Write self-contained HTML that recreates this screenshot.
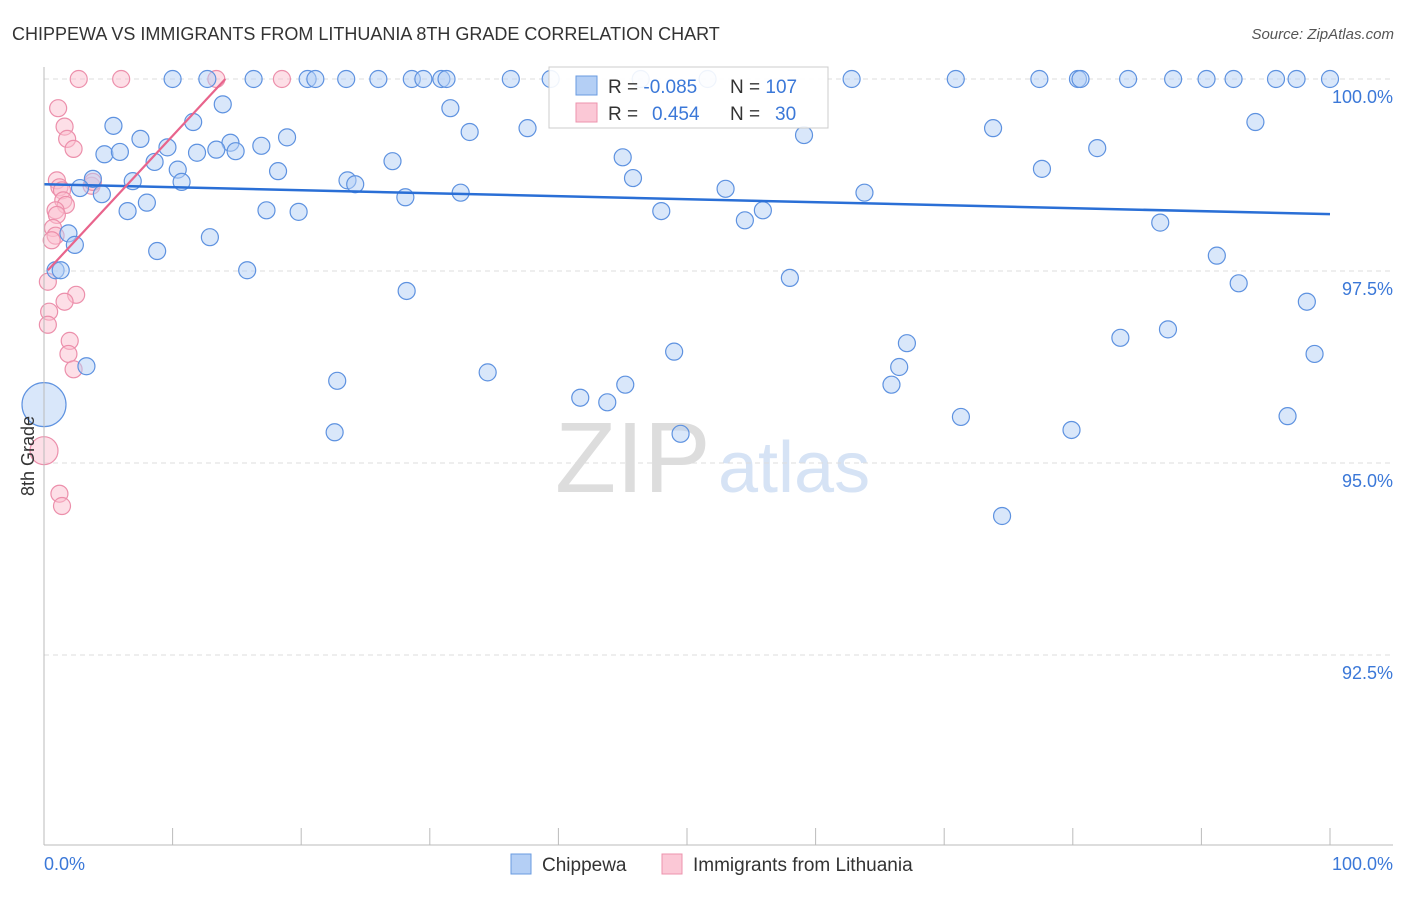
<!DOCTYPE html>
<html><head><meta charset="utf-8">
<style>
body{margin:0;background:#fff;width:1406px;height:892px;overflow:hidden;font-family:"Liberation Sans",sans-serif}
svg text{font-family:"Liberation Sans",sans-serif}
</style></head>
<body>
<svg id="chart" width="1406" height="892">
<text x="12" y="40" font-size="18" fill="#333">CHIPPEWA VS IMMIGRANTS FROM LITHUANIA 8TH GRADE CORRELATION CHART</text>
<text x="1394" y="39" font-size="15" fill="#555" font-style="italic" text-anchor="end">Source: ZipAtlas.com</text>
<text x="555" y="492" font-size="100" fill="#ddd" font-family="Liberation Serif">ZIP</text>
<text x="718" y="492" font-size="72" fill="#d6e3f5">atlas</text>
<g id="grid"></g>
<g id="pts"></g>
<g id="trend"></g>
<line x1="44" y1="67" x2="44" y2="845" stroke="#bbb"/>
<line x1="44" y1="845" x2="1393" y2="845" stroke="#bbb"/>
<g id="xticks"></g>
<text x="44" y="870" font-size="18" fill="#3b78d8">0.0%</text>
<text x="1393" y="870" font-size="18" fill="#3b78d8" text-anchor="end">100.0%</text>
<text transform="translate(34,456) rotate(-90)" font-size="18" fill="#333" text-anchor="middle">8th Grade</text>
<g>
<rect x="549" y="67" width="279" height="61" fill="#fff" fill-opacity="0.9" stroke="#ccc"/>
<rect x="576" y="76" width="21" height="19" fill="#b4cff5" stroke="#6a9be0"/>
<rect x="576" y="103" width="21" height="19" fill="#fbc8d6" stroke="#ec93ad"/>
<text x="608" y="93" font-size="19" fill="#333">R = <tspan fill="#3b78d8">-0.085</tspan></text>
<text x="730" y="93" font-size="19" fill="#333">N = <tspan fill="#3b78d8">107</tspan></text>
<text x="608" y="120" font-size="19" fill="#333">R = <tspan fill="#3b78d8" x="652">0.454</tspan></text>
<text x="730" y="120" font-size="19" fill="#333">N = <tspan fill="#3b78d8" x="775">30</tspan></text>
</g>
<g>
<rect x="511" y="854" width="20" height="20" fill="#b4cff5" stroke="#6a9be0"/>
<text x="542" y="871" font-size="19" fill="#333">Chippewa</text>
<rect x="662" y="854" width="20" height="20" fill="#fbc8d6" stroke="#ec93ad"/>
<text x="693" y="871" font-size="19" fill="#333">Immigrants from Lithuania</text>
</g>
</svg>
<script>
const yTicks=[100,97.5,95,92.5];
const yTickLabels=["100.0%","97.5%","95.0%","92.5%"];
const xTickVals=[0,10,20,30,40,50,60,70,80,90,100];
const blueX=[10.0,12.7,16.3,20.5,21.1,23.5,26.0,28.6,29.5,30.9,31.3,36.3,39.4,46.4,51.6,62.8,70.9,77.4,80.4,80.6,84.3,87.8,90.4,92.5,95.8,97.4,100,
13.9,31.6,5.4,11.6,33.1,37.6,94.2,73.8,7.5,14.5,18.9,59.1,9.6,4.7,5.9,11.9,13.4,14.9,16.9,81.9,8.6,27.1,45.0,10.4,18.2,77.6,3.8,6.9,10.7,23.6,24.2,45.8,2.8,4.5,28.1,32.4,53.0,63.8,8.0,6.5,17.3,19.8,48.0,55.9,54.5,86.8,1.9,12.9,2.4,8.8,91.2,0.9,1.3,15.8,58.0,92.9,28.2,98.2,87.4,83.7,67.1,49.0,98.8,3.3,34.5,66.5,22.8,45.2,65.9,41.7,43.8,71.3,96.7,22.6,49.5,79.9,74.5];
const blueY=[100,100,100,100,100,100,100,100,100,100,100,100,100,100,100,100,100,100,100,100,100,100,100,100,100,100,100,
99.67,99.62,99.39,99.44,99.31,99.36,99.44,99.36,99.22,99.17,99.24,99.27,99.11,99.02,99.05,99.04,99.08,99.06,99.13,99.10,98.92,98.93,98.98,98.82,98.80,98.83,98.70,98.67,98.66,98.68,98.63,98.71,98.58,98.50,98.46,98.52,98.57,98.52,98.39,98.28,98.29,98.27,98.28,98.29,98.16,98.13,97.99,97.94,97.84,97.76,97.70,97.51,97.51,97.51,97.41,97.34,97.24,97.10,96.74,96.63,96.56,96.45,96.42,96.26,96.18,96.25,96.07,96.02,96.02,95.85,95.79,95.60,95.61,95.40,95.38,95.43,94.31];
const blueBigX=[0], blueBigY=[95.76];
const pinkX=[2.7,6.0,13.4,18.5,1.1,1.6,1.8,2.3,1.0,1.2,1.4,3.7,1.5,1.7,0.9,1.0,0.7,0.9,0.6,0.3,2.5,1.6,0.4,0.3,2.0,1.9,2.3,1.2,1.4,3.8];
const pinkY=[100,100,100,100,99.62,99.38,99.22,99.09,98.68,98.59,98.55,98.61,98.42,98.36,98.29,98.23,98.06,97.96,97.90,97.36,97.19,97.10,96.97,96.80,96.59,96.42,96.22,94.60,94.44,98.66];
const pinkBigX=[0], pinkBigY=[95.16];
const blueTrend=[[0,98.63],[100,98.24]];
const pinkTrend=[[0.3,97.51],[14.1,100]];
const NS="http://www.w3.org/2000/svg";
const X=v=>44+v*12.86;
const Y=v=>79+(100-v)*76.8;
function mk(tag,attrs,parent){const e=document.createElementNS(NS,tag);for(const k in attrs)e.setAttribute(k,attrs[k]);parent.appendChild(e);return e;}
const grid=document.getElementById('grid');
yTicks.forEach((t,i)=>{
 const l=mk('line',{x1:44,x2:1393,y1:Y(t),y2:Y(t),stroke:'#ddd','stroke-dasharray':'5,4'},grid);
 
 
 const tx=mk('text',{x:1393,y:Y(t)+24,'font-size':18,fill:'#3b78d8','text-anchor':'end'},grid);
 tx.textContent=yTickLabels[i];
 
 
});
const xt=document.getElementById('xticks');
xTickVals.forEach(v=>{
 const l=mk('line',{x1:X(v),x2:X(v),y1:828,y2:845,stroke:'#bbb'},xt);
 
 
});
const pts=document.getElementById('pts');
function dots(xs,ys,r,fill,stroke,name){
 xs.forEach((x,i)=>{
  const c=mk('circle',{cx:X(x),cy:Y(ys[i]),r:r,fill:fill,'fill-opacity':0.5,stroke:stroke,'stroke-width':1.2},pts);
  
  
 });
}
dots(pinkX,pinkY,8.5,'#fbc0d0','#ec8fab','lithuania-point');
dots(pinkBigX,pinkBigY,14,'#fbc0d0','#ec8fab','lithuania-point');
dots(blueX,blueY,8.5,'#b4cff5','#5e92e0','chippewa-point');
dots(blueBigX,blueBigY,22,'#b4cff5','#5e92e0','chippewa-point');
const tr=document.getElementById('trend');
const b=mk('line',{x1:X(blueTrend[0][0]),y1:Y(blueTrend[0][1]),x2:X(blueTrend[1][0]),y2:Y(blueTrend[1][1]),stroke:'#2a6fd6','stroke-width':2.5},tr);


const p=mk('line',{x1:X(pinkTrend[0][0]),y1:Y(pinkTrend[0][1]),x2:X(pinkTrend[1][0]),y2:Y(pinkTrend[1][1]),stroke:'#e8648c','stroke-width':2.2},tr);


</script>
</body></html>
